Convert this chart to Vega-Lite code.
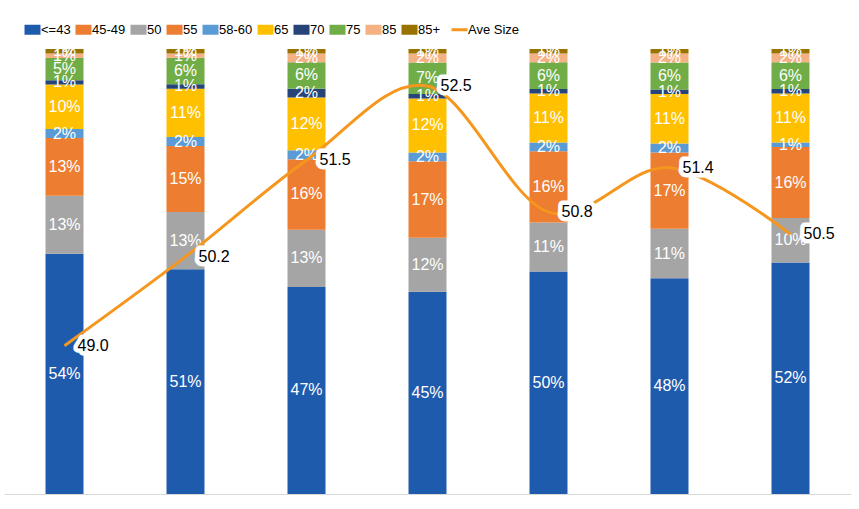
{
  "$schema": "https://vega.github.io/schema/vega-lite/v6.json",
  "width": 847,
  "height": 445,
  "autosize": "none",
  "padding": {"left": 4, "top": 49, "right": 8, "bottom": 15},
  "background": "white",
  "config": {
    "view": {"stroke": null},
    "font": "Liberation Sans"
  },
  "datasets": {
    "segs": [
      {"cat": "1", "seg": "<=43", "k": 1, "v": 54}, {"cat": "1", "seg": "50", "k": 3, "v": 13}, {"cat": "1", "seg": "55", "k": 4, "v": 13}, {"cat": "1", "seg": "58-60", "k": 5, "v": 2}, {"cat": "1", "seg": "65", "k": 6, "v": 10}, {"cat": "1", "seg": "70", "k": 7, "v": 1}, {"cat": "1", "seg": "75", "k": 8, "v": 5}, {"cat": "1", "seg": "85", "k": 9, "v": 1}, {"cat": "1", "seg": "85+", "k": 10, "v": 1},
      {"cat": "2", "seg": "<=43", "k": 1, "v": 51}, {"cat": "2", "seg": "50", "k": 3, "v": 13}, {"cat": "2", "seg": "55", "k": 4, "v": 15}, {"cat": "2", "seg": "58-60", "k": 5, "v": 2}, {"cat": "2", "seg": "65", "k": 6, "v": 11}, {"cat": "2", "seg": "70", "k": 7, "v": 1}, {"cat": "2", "seg": "75", "k": 8, "v": 6}, {"cat": "2", "seg": "85", "k": 9, "v": 1}, {"cat": "2", "seg": "85+", "k": 10, "v": 1},
      {"cat": "3", "seg": "<=43", "k": 1, "v": 47}, {"cat": "3", "seg": "50", "k": 3, "v": 13}, {"cat": "3", "seg": "55", "k": 4, "v": 16}, {"cat": "3", "seg": "58-60", "k": 5, "v": 2}, {"cat": "3", "seg": "65", "k": 6, "v": 12}, {"cat": "3", "seg": "70", "k": 7, "v": 2}, {"cat": "3", "seg": "75", "k": 8, "v": 6}, {"cat": "3", "seg": "85", "k": 9, "v": 2}, {"cat": "3", "seg": "85+", "k": 10, "v": 1},
      {"cat": "4", "seg": "<=43", "k": 1, "v": 45}, {"cat": "4", "seg": "50", "k": 3, "v": 12}, {"cat": "4", "seg": "55", "k": 4, "v": 17}, {"cat": "4", "seg": "58-60", "k": 5, "v": 2}, {"cat": "4", "seg": "65", "k": 6, "v": 12}, {"cat": "4", "seg": "70", "k": 7, "v": 1}, {"cat": "4", "seg": "75", "k": 8, "v": 7}, {"cat": "4", "seg": "85", "k": 9, "v": 2}, {"cat": "4", "seg": "85+", "k": 10, "v": 1},
      {"cat": "5", "seg": "<=43", "k": 1, "v": 50}, {"cat": "5", "seg": "50", "k": 3, "v": 11}, {"cat": "5", "seg": "55", "k": 4, "v": 16}, {"cat": "5", "seg": "58-60", "k": 5, "v": 2}, {"cat": "5", "seg": "65", "k": 6, "v": 11}, {"cat": "5", "seg": "70", "k": 7, "v": 1}, {"cat": "5", "seg": "75", "k": 8, "v": 6}, {"cat": "5", "seg": "85", "k": 9, "v": 2}, {"cat": "5", "seg": "85+", "k": 10, "v": 1},
      {"cat": "6", "seg": "<=43", "k": 1, "v": 48}, {"cat": "6", "seg": "50", "k": 3, "v": 11}, {"cat": "6", "seg": "55", "k": 4, "v": 17}, {"cat": "6", "seg": "58-60", "k": 5, "v": 2}, {"cat": "6", "seg": "65", "k": 6, "v": 11}, {"cat": "6", "seg": "70", "k": 7, "v": 1}, {"cat": "6", "seg": "75", "k": 8, "v": 6}, {"cat": "6", "seg": "85", "k": 9, "v": 2}, {"cat": "6", "seg": "85+", "k": 10, "v": 1},
      {"cat": "7", "seg": "<=43", "k": 1, "v": 52}, {"cat": "7", "seg": "50", "k": 3, "v": 10}, {"cat": "7", "seg": "55", "k": 4, "v": 16}, {"cat": "7", "seg": "58-60", "k": 5, "v": 1}, {"cat": "7", "seg": "65", "k": 6, "v": 11}, {"cat": "7", "seg": "70", "k": 7, "v": 1}, {"cat": "7", "seg": "75", "k": 8, "v": 6}, {"cat": "7", "seg": "85", "k": 9, "v": 2}, {"cat": "7", "seg": "85+", "k": 10, "v": 1}
    ],
    "ave": [
      {"cat": "1", "ave": 49.0, "series": "Ave Size"},
      {"cat": "2", "ave": 50.2, "series": "Ave Size"},
      {"cat": "3", "ave": 51.5, "series": "Ave Size"},
      {"cat": "4", "ave": 52.5, "series": "Ave Size"},
      {"cat": "5", "ave": 50.8, "series": "Ave Size"},
      {"cat": "6", "ave": 51.4, "series": "Ave Size"},
      {"cat": "7", "ave": 50.5, "series": "Ave Size"}
    ]
  },
  "encoding": {
    "x": {
      "field": "cat",
      "type": "nominal",
      "sort": null,
      "scale": {"paddingInner": 0.686, "paddingOuter": 0.343},
      "axis": {"title": null, "labels": false, "ticks": false, "grid": false, "domain": true, "domainColor": "#D9D9D9", "domainWidth": 1}
    }
  },
  "layer": [
    {
      "data": {"name": "segs"},
      "transform": [
        {"stack": "v", "groupby": ["cat"], "sort": [{"field": "k"}], "offset": "normalize", "as": ["y0", "y1"]},
        {"calculate": "(datum.y0 + datum.y1) / 2", "as": "ym"},
        {"calculate": "datum.v + '%'", "as": "lbl"}
      ],
      "layer": [
        {
          "mark": {"type": "bar"},
          "encoding": {
            "y": {"field": "y0", "type": "quantitative", "scale": {"domain": [0, 1]}, "axis": null},
            "y2": {"field": "y1"},
            "color": {
              "field": "seg",
              "type": "nominal",
              "scale": {
                "domain": ["<=43", "45-49", "50", "55", "58-60", "65", "70", "75", "85", "85+", "Ave Size"],
                "range": ["#1F5BAD", "#ED7D31", "#A5A5A5", "#ED7D31", "#5B9BD5", "#FFC000", "#264478", "#70AD47", "#F4B183", "#997300", "#F5961E"]
              },
              "legend": {
                "title": null,
                "orient": "none",
                "legendX": 22,
                "legendY": -26,
                "direction": "horizontal",
                "labelFont": "Liberation Sans",
                "labelFontSize": 13,
                "labelColor": "#000000",
                "labelOffset": 2,
                "columnPadding": 4,
                "symbolSize": 256,
                "encode": {
                  "symbols": {
                    "update": {
                      "shape": {"signal": "datum.value === 'Ave Size' ? 'M-1,0H1' : 'M-1,-0.625H1V0.625H-1Z'"},
                      "fill": {"signal": "datum.value === 'Ave Size' ? 'transparent' : scale('color', datum.value)"},
                      "stroke": {"signal": "datum.value === 'Ave Size' ? scale('color', datum.value) : 'transparent'"},
                      "strokeWidth": {"signal": "datum.value === 'Ave Size' ? 3 : 0"},
                      "opacity": {"value": 1}
                    }
                  }
                }
              }
            }
          }
        },
        {
          "mark": {"type": "text", "color": "white", "fontSize": 16, "font": "Liberation Sans", "baseline": "middle", "align": "center"},
          "encoding": {
            "y": {"field": "ym", "type": "quantitative", "scale": {"domain": [0, 1]}, "axis": null},
            "text": {"field": "lbl"}
          }
        }
      ]
    },
    {
      "data": {"name": "ave"},
      "layer": [
        {
          "mark": {"type": "line", "interpolate": "cardinal", "strokeWidth": 3},
          "encoding": {
            "y": {"field": "ave", "type": "quantitative", "scale": {"domain": [47, 53]}, "axis": null},
            "color": {"field": "series", "type": "nominal"}
          }
        },
        {
          "mark": {"type": "text", "color": "black", "fontSize": 16, "font": "Liberation Sans", "baseline": "middle", "align": "left", "dx": 13, "stroke": "white", "strokeWidth": 9, "strokeJoin": "round"},
          "encoding": {
            "y": {"field": "ave", "type": "quantitative", "scale": {"domain": [47, 53]}, "axis": null},
            "text": {"field": "ave", "format": ".1f"}
          }
        },
        {
          "mark": {"type": "text", "color": "black", "fontSize": 16, "font": "Liberation Sans", "baseline": "middle", "align": "left", "dx": 13},
          "encoding": {
            "y": {"field": "ave", "type": "quantitative", "scale": {"domain": [47, 53]}, "axis": null},
            "text": {"field": "ave", "format": ".1f"}
          }
        }
      ]
    }
  ],
  "resolve": {"scale": {"y": "independent"}}
}
